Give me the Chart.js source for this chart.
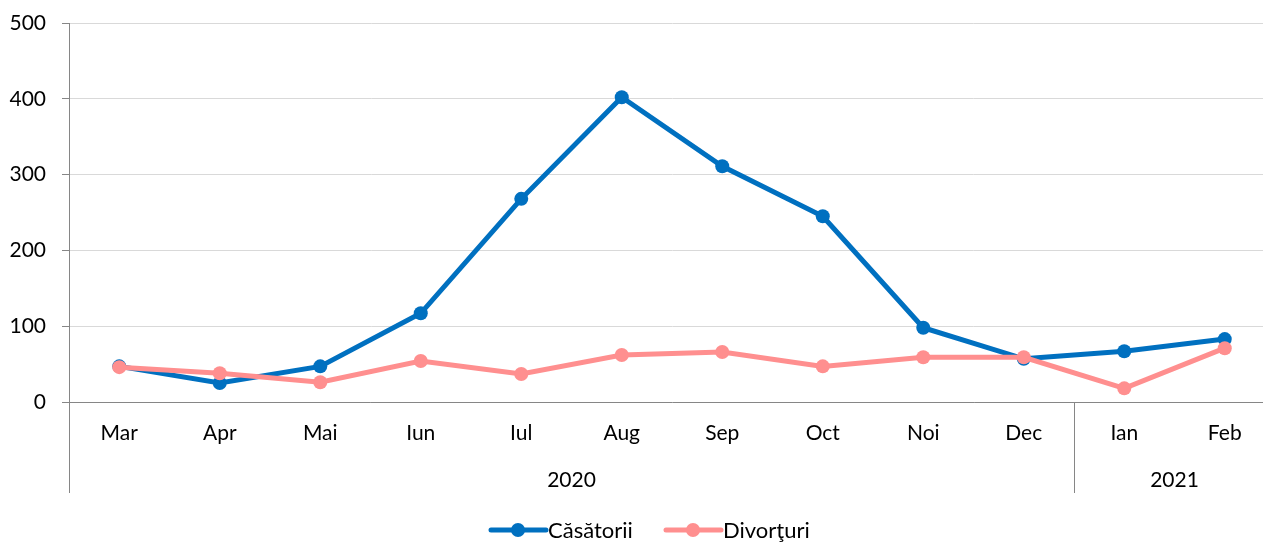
<!DOCTYPE html>
<html lang="ro">
<head>
<meta charset="UTF-8">
<title>Căsătorii și divorţuri</title>
<script src="https://cdn.jsdelivr.net/npm/chart.js"></script>
<style>
  body { margin: 0; background: #fff; overflow: hidden; }
  #wrap { width: 1282px; height: 542px; }
</style>
</head>
<body>
<div id="wrap"><canvas id="chart" width="1282" height="542"></canvas></div>
<script>
const months = ['Mar', 'Apr', 'Mai', 'Iun', 'Iul', 'Aug', 'Sep', 'Oct', 'Noi', 'Dec', 'Ian', 'Feb'];
const years = ['2020', '2021'];
const monthsPerYear = [10, 2];
const casatorii = [47, 25, 47, 117, 268, 402, 311, 245, 98, 57, 67, 83];
const divorturi = [46, 38, 26, 54, 37, 62, 66, 47, 59, 59, 18, 71];
const yTicks = [0, 100, 200, 300, 400, 500];

const BLUE = '#0070c0';
const PINK = '#ff8f8f';
const AXIS = '#868686';
const FONT = 'Lato, "Open Sans", sans-serif';

// year row, separators and legend under the month labels
const extras = {
  id: 'extras',
  afterDraw(chart) {
    const c = chart.ctx, x = chart.scales.x, area = chart.chartArea;
    const bottom = 493;
    c.save();
    c.strokeStyle = AXIS;
    c.lineWidth = 1;
    c.beginPath();
    c.moveTo(area.left + 0.5, area.bottom);
    c.lineTo(area.left + 0.5, bottom);
    c.stroke();

    c.font = '21px ' + FONT;
    c.fillStyle = '#000';
    c.textAlign = 'center';
    c.textBaseline = 'middle';
    let start = 0;
    years.forEach((y, i) => {
      const end = start + monthsPerYear[i] - 1;
      const mid = (x.getPixelForValue(start) + x.getPixelForValue(end)) / 2;
      c.fillText(y, mid, 480);
      if (start > 0) {
        const sx = Math.round((x.getPixelForValue(start - 1) + x.getPixelForValue(start)) / 2) + 0.5;
        c.beginPath();
        c.moveTo(sx, area.bottom);
        c.lineTo(sx, bottom);
        c.stroke();
      }
      start = end + 1;
    });

    // legend
    const items = [
      { label: 'Căsătorii', color: BLUE, x: 491 },
      { label: 'Divorţuri', color: PINK, x: 666 }
    ];
    const ly = 530;
    c.textAlign = 'left';
    c.font = '22px ' + FONT;
    items.forEach(it => {
      c.strokeStyle = it.color;
      c.lineWidth = 5;
      c.lineCap = 'round';
      c.beginPath();
      c.moveTo(it.x, ly);
      c.lineTo(it.x + 55, ly);
      c.stroke();
      c.fillStyle = it.color;
      c.beginPath();
      c.arc(it.x + 27, ly, 7, 0, Math.PI * 2);
      c.fill();
      c.fillStyle = '#000';
      c.fillText(it.label, it.x + 57, ly + 1);
    });
    c.restore();
  }
};

new Chart(document.getElementById('chart'), {
  type: 'line',
  data: {
    labels: months,
    datasets: [
      {
        label: 'Căsătorii',
        data: casatorii,
        borderColor: BLUE,
        backgroundColor: BLUE,
        borderWidth: 5,
        pointRadius: 7,
        pointBorderWidth: 0,
        tension: 0,
        order: 1
      },
      {
        label: 'Divorţuri',
        data: divorturi,
        borderColor: PINK,
        backgroundColor: PINK,
        borderWidth: 5,
        pointRadius: 7,
        pointBorderWidth: 0,
        tension: 0,
        order: 0
      }
    ]
  },
  options: {
    responsive: false,
    animation: false,
    layout: { padding: { top: 23, right: 0, left: 0, bottom: 0 } },
    plugins: { legend: { display: false }, tooltip: { enabled: false } },
    scales: {
      x: {
        offset: true,
        grid: { display: false, drawTicks: false },
        border: { display: true, color: AXIS, width: 1 },
        ticks: { color: '#000', font: { family: FONT, size: 21 }, padding: 19, maxRotation: 0 },
        afterFit(s) { s.height = 140; s.paddingLeft = 0; s.paddingRight = 0; }
      },
      y: {
        min: 0,
        max: 500,
        afterBuildTicks(s) { s.ticks = yTicks.map(v => ({ value: v })); },
        grid: { color: '#d9d9d9', tickColor: AXIS, tickLength: 7 },
        border: { display: true, color: AXIS, width: 1 },
        ticks: { color: '#000', font: { family: FONT, size: 21 }, padding: 16 },
        afterFit(s) { s.width = 69; s.paddingTop = 0; s.paddingBottom = 0; }
      }
    }
  },
  plugins: [extras]
});
</script>
</body>
</html>
